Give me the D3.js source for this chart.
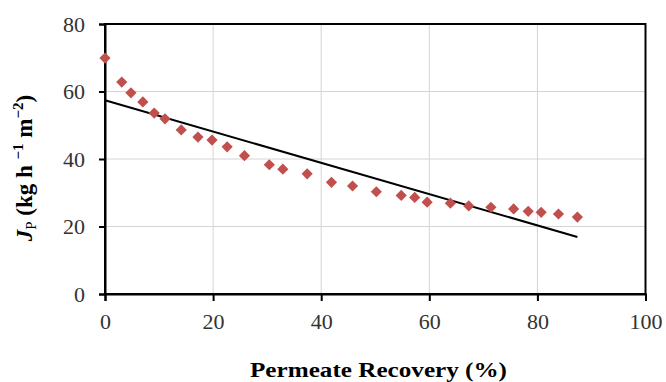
<!DOCTYPE html>
<html>
<head>
<meta charset="utf-8">
<script src="https://cdn.jsdelivr.net/npm/d3@7"></script>
<style>
  body { margin: 0; background: #fff; }
  svg { display: block; font-family: "Liberation Serif", "Times New Roman", serif; }
</style>
</head>
<body>
<script>
// measured points: permeate recovery (%) vs permeate flux
const recovery = [0, 3.1, 4.8, 7.0, 9.1, 11.1, 14.1, 17.2, 19.8, 22.6, 25.8, 30.4, 32.9, 37.4, 41.9, 45.8, 50.2, 54.8, 57.3, 59.6, 63.9, 67.3, 71.4, 75.6, 78.3, 80.7, 83.9, 87.4];
const flux = [69.9, 62.8, 59.6, 56.9, 53.6, 51.9, 48.6, 46.5, 45.6, 43.6, 41.0, 38.3, 37.0, 35.6, 33.1, 32.0, 30.3, 29.2, 28.6, 27.2, 26.9, 26.1, 25.7, 25.2, 24.5, 24.2, 23.7, 22.8];

// linear trendline end points
const trendX = [0, 87.4];
const trendY = [57.4, 16.9];

const xTicks = [0, 20, 40, 60, 80, 100];
const yTicks = [0, 20, 40, 60, 80];

const width = 666;
const height = 382;
const margin = { left: 105, top: 24, right: 20.5, bottom: 88 };

const svg = d3.select("body").append("svg")
  .attr("width", width)
  .attr("height", height);

const x = d3.scaleLinear().domain([0, 100]).range([margin.left, width - margin.right]);
const y = d3.scaleLinear().domain([0, 80]).range([height - margin.bottom, margin.top]);

// gridlines
svg.append("g")
  .selectAll("line")
  .data(xTicks)
  .join("line")
  .attr("x1", d => x(d)).attr("x2", d => x(d))
  .attr("y1", y(0)).attr("y2", y(80))
  .attr("stroke", "#d4d4d4").attr("stroke-width", 1);

svg.append("g")
  .selectAll("line")
  .data(yTicks)
  .join("line")
  .attr("x1", x(0)).attr("x2", x(100))
  .attr("y1", d => y(d)).attr("y2", d => y(d))
  .attr("stroke", "#d4d4d4").attr("stroke-width", 1);

// frame
svg.append("rect")
  .attr("x", x(0)).attr("y", y(80))
  .attr("width", x(100) - x(0)).attr("height", y(0) - y(80))
  .attr("fill", "none").attr("stroke", "#000").attr("stroke-width", 2);

// axes
const xAxis = svg.append("g")
  .attr("transform", `translate(0,${y(0)})`)
  .call(d3.axisBottom(x).tickValues(xTicks).tickSize(7).tickPadding(12));
const yAxis = svg.append("g")
  .attr("transform", `translate(${x(0)},0)`)
  .call(d3.axisLeft(y).tickValues(yTicks).tickSize(6).tickPadding(14));

[xAxis, yAxis].forEach(a => {
  a.select(".domain").attr("stroke", "#000").attr("stroke-width", 2);
  a.selectAll(".tick line").attr("stroke", "#000").attr("stroke-width", 2);
  a.selectAll(".tick text")
    .attr("fill", "#333")
    .style("font-family", "'Liberation Serif', 'Times New Roman', serif")
    .style("font-size", "22px");
});

// trendline
svg.append("line")
  .attr("x1", x(trendX[0])).attr("y1", y(trendY[0]))
  .attr("x2", x(trendX[1])).attr("y2", y(trendY[1]))
  .attr("stroke", "#000").attr("stroke-width", 2);

// data points
svg.append("g")
  .selectAll("path")
  .data(recovery)
  .join("path")
  .attr("transform", (d, i) => `translate(${x(d)},${y(flux[i])})`)
  .attr("d", d3.symbol(d3.symbolDiamond2, 80))
  .attr("fill", "#c0504d");

// axis titles
svg.append("text")
  .attr("x", 378.5).attr("y", 377)
  .attr("text-anchor", "middle")
  .attr("textLength", 257)
  .attr("lengthAdjust", "spacingAndGlyphs")
  .style("font-size", "22px")
  .style("font-weight", "bold")
  .text("Permeate Recovery (%)");

const yt = svg.append("text")
  .attr("transform", "translate(32,168) rotate(-90)")
  .attr("text-anchor", "middle")
  .style("font-size", "23px")
  .style("font-weight", "bold");
yt.append("tspan").style("font-style", "italic").text("J");
yt.append("tspan").attr("dy", 4).style("font-size", "15px").style("font-weight", "normal").text("P");
yt.append("tspan").attr("dy", -4).text(" (kg h ");
yt.append("tspan").attr("dy", -9).style("font-size", "15px").text("−1");
yt.append("tspan").attr("dy", 9).text(" m");
yt.append("tspan").attr("dy", -9).style("font-size", "15px").text("−2");
yt.append("tspan").attr("dy", 9).text(")");
</script>
</body>
</html>
